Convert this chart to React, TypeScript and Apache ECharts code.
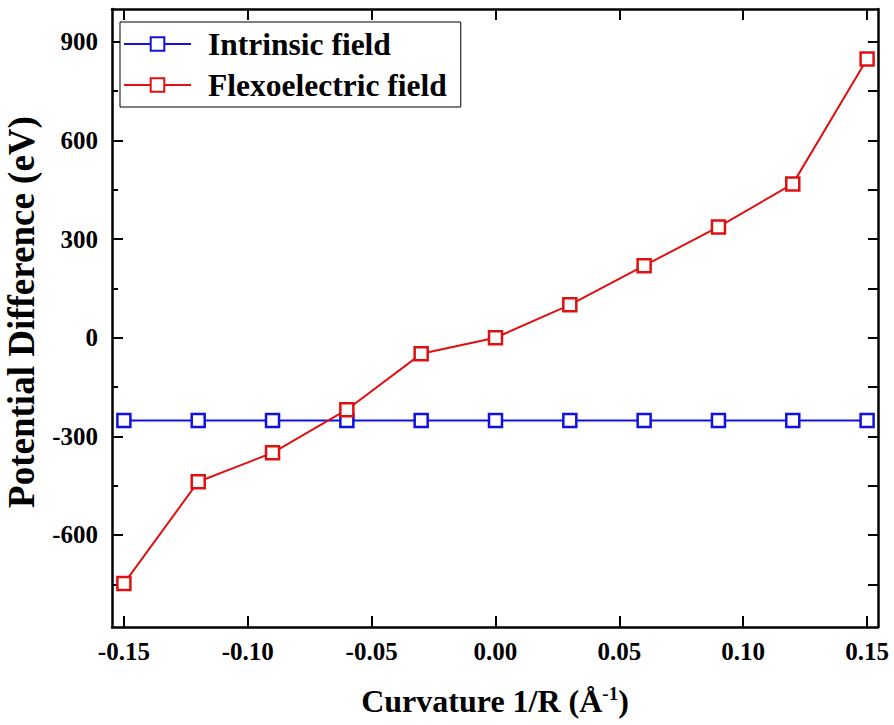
import React, { useEffect, useRef } from "react";
import * as echarts from "echarts";

const curvature = [-0.15, -0.12, -0.09, -0.06, -0.03, 0.0, 0.03, 0.06, 0.09, 0.12, 0.15];
const intrinsicField = [-252, -252, -252, -252, -252, -252, -252, -252, -252, -252, -252];
const flexoelectricField = [-748, -438, -350, -219, -49, 0, 100, 219, 337, 468, 848];
const xTickLabels = [-0.15, -0.1, -0.05, 0.0, 0.05, 0.1, 0.15];
const yTickLabels = [-600, -300, 0, 300, 600, 900];
const yMinorTicks = [-750, -450, -150, 150, 450, 750];
const yAllTicks = [-750, -600, -450, -300, -150, 0, 150, 300, 450, 600, 750, 900];

const FONT = "'Liberation Serif', 'Times New Roman', serif";

export default function App() {
  const ref = useRef<HTMLDivElement>(null);
  useEffect(() => {
    if (!ref.current) return;
    const chart = echarts.init(ref.current, null, { renderer: "svg" });
    const axisLine = { show: true, onZero: false, lineStyle: { color: "#000", width: 2.5 } };
    const X_MIN = -0.1548;
    const X_MAX = 0.1544;
    const Y_MIN = -880;
    const Y_MAX = 1000;
    const mk = (arr: number[]) => curvature.map((x, i) => [x, arr[i]]);
    chart.setOption({
      animation: false,
      backgroundColor: "#fff",
      grid: { left: 112, right: 16, top: 9, bottom: 98, outerBoundsMode: "none", containLabel: false },
      legend: {
        left: 120,
        top: 22,
        orient: "vertical",
        backgroundColor: "#fff",
        borderColor: "#000",
        borderWidth: 1,
        borderRadius: 0,
        padding: [6, 14, 6, 3],
        itemWidth: 67,
        itemHeight: 17,
        itemGap: 9,
        textStyle: {
          fontFamily: FONT,
          fontWeight: "bold",
          fontSize: 31.5,
          color: "#000",
          padding: [0, 0, 0, 12],
        },
        data: ["Intrinsic field", "Flexoelectric field"],
      },
      xAxis: [
        {
          type: "value",
          min: X_MIN,
          max: X_MAX,
          position: "bottom",
          axisLine,
          splitLine: { show: false },
          axisTick: { show: true, inside: true, length: 11, customValues: xTickLabels, lineStyle: { color: "#000", width: 2 } },
          axisLabel: {
            customValues: xTickLabels,
            formatter: (v: number) => v.toFixed(2),
            fontFamily: FONT,
            fontWeight: "bold",
            fontSize: 25,
            color: "#000",
            margin: 12,
          },
          name: "{a|Curvature 1/R (Å}{s|-1}{a|)}",
          nameLocation: "middle",
          nameGap: 57,
          nameTextStyle: {
            rich: {
              a: { fontFamily: FONT, fontWeight: "bold", fontSize: 32, color: "#000" },
              s: { fontFamily: FONT, fontWeight: "bold", fontSize: 19, color: "#000", verticalAlign: "bottom", padding: [0, 0, 14, 0] },
            },
          },
        },
        {
          type: "value",
          min: X_MIN,
          max: X_MAX,
          position: "top",
          axisLine,
          splitLine: { show: false },
          axisTick: { show: true, inside: true, length: 11, customValues: xTickLabels, lineStyle: { color: "#000", width: 2 } },
          axisLabel: { show: false },
        },
      ],
      yAxis: [
        {
          type: "value",
          min: Y_MIN,
          max: Y_MAX,
          position: "left",
          axisLine,
          splitLine: { show: false },
          axisTick: { inside: true, length: 11, customValues: yTickLabels, lineStyle: { color: "#000", width: 2 } },
          axisLabel: {
            customValues: yTickLabels,
            fontFamily: FONT,
            fontWeight: "bold",
            fontSize: 25,
            color: "#000",
            margin: 14,
          },
          name: "Potential Difference (eV)",
          nameLocation: "middle",
          nameRotate: 90,
          nameGap: 72,
          nameTextStyle: { fontFamily: FONT, fontWeight: "bold", fontSize: 37, color: "#000", padding: [0, 0, 0, 12] },
        },
        {
          type: "value",
          min: Y_MIN,
          max: Y_MAX,
          position: "left",
          axisLine: { show: false, onZero: false },
          splitLine: { show: false },
          axisTick: { inside: true, length: 6, customValues: yMinorTicks, lineStyle: { color: "#000", width: 2 } },
          axisLabel: { show: false },
        },
        {
          type: "value",
          min: Y_MIN,
          max: Y_MAX,
          position: "right",
          axisLine,
          splitLine: { show: false },
          axisTick: { inside: true, length: 10, customValues: yAllTicks, lineStyle: { color: "#000", width: 2 } },
          axisLabel: { show: false },
        },
      ],
      series: [
        {
          name: "Intrinsic field",
          type: "line",
          data: mk(intrinsicField),
          symbol: "rect",
          symbolSize: 13,
          color: "#1010e0",
          lineStyle: { color: "#1010e0", width: 2 },
          itemStyle: { color: "#fff", borderColor: "#1010e0", borderWidth: 2.5 },
          z: 2,
        },
        {
          name: "Flexoelectric field",
          type: "line",
          data: mk(flexoelectricField),
          symbol: "rect",
          symbolSize: 13,
          color: "#e01010",
          lineStyle: { color: "#e01010", width: 2 },
          itemStyle: { color: "#fff", borderColor: "#e01010", borderWidth: 2.5 },
          z: 3,
        },
      ],
    });
    return () => chart.dispose();
  }, []);
  return <div ref={ref} style={{ width: 894, height: 725, position: "absolute", left: 0, top: 0 }} />;
}
